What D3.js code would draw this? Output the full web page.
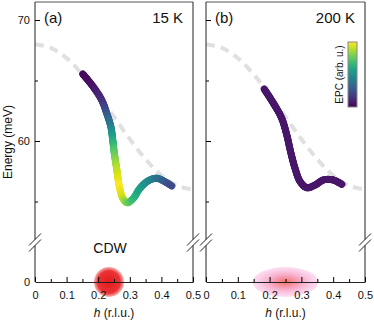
<!DOCTYPE html>
<html>
<head>
<meta charset="utf-8">
<script src="https://cdn.jsdelivr.net/npm/d3@7"></script>
<style>
body { margin: 0; background: #fff; }
svg { font-family: "Liberation Sans", Arial, sans-serif; }
</style>
</head>
<body>
<script>
var w = 374;
var h = 321;

// data
var panelLabels = ["(a)", "(b)"];
var temps = ["15 K", "200 K"];
var xMajor = [0, 0.1, 0.2, 0.3, 0.4, 0.5];
var xMinor = [0.05, 0.15, 0.25, 0.35, 0.45];
var yMajor = [60, 70];
var yMinor = [55, 65];

// grey dashed reference dispersion
var dashH = [0, 0.05, 0.1, 0.15, 0.2, 0.25, 0.3, 0.35, 0.4, 0.45, 0.5];
var dashE = [68, 67.7, 66.85, 65.5, 63.85, 62, 60.15, 58.5, 57.15, 56.3, 56];

// 15 K phonon branch with EPC
var aH = [0.151, 0.184, 0.211, 0.227, 0.240, 0.246, 0.251, 0.259, 0.267, 0.278, 0.292, 0.311, 0.332, 0.359, 0.385, 0.411, 0.433];
var aE = [65.54, 64.49, 63.39, 62.29, 61.18, 60.08, 58.98, 57.60, 56.22, 55.26, 54.90, 55.26, 56.09, 56.72, 56.92, 56.64, 56.28];
var aEPC = [0.02, 0.05, 0.12, 0.25, 0.42, 0.6, 0.75, 0.9, 1.0, 0.93, 0.8, 0.68, 0.58, 0.48, 0.4, 0.3, 0.22];

// 200 K branch
var bH = [0.183, 0.212, 0.238, 0.254, 0.266, 0.280, 0.296, 0.317, 0.343, 0.369, 0.400, 0.427];
var bE = [64.30, 63.12, 61.88, 60.50, 59.12, 57.74, 56.64, 56.14, 56.36, 56.78, 56.78, 56.42];
var bEPC = [0.06, 0.06, 0.06, 0.06, 0.06, 0.06, 0.06, 0.06, 0.06, 0.06, 0.06, 0.06];

// CDW peak positions
var cdwH = [0.234, 0.25];

var svg = d3.select("body").append("svg")
    .attr("width", w)
    .attr("height", h);

var defs = svg.append("defs");

var gA = defs.append("radialGradient").attr("id", "cdwA");
gA.append("stop").attr("offset", "0%").attr("stop-color", "#e31a1c").attr("stop-opacity", 1);
gA.append("stop").attr("offset", "75%").attr("stop-color", "#e8282a").attr("stop-opacity", 0.95);
gA.append("stop").attr("offset", "100%").attr("stop-color", "#f06060").attr("stop-opacity", 0.5);

var gB = defs.append("radialGradient").attr("id", "cdwB");
gB.append("stop").attr("offset", "0%").attr("stop-color", "#f26a55").attr("stop-opacity", 0.95);
gB.append("stop").attr("offset", "40%").attr("stop-color", "#f590b0").attr("stop-opacity", 0.85);
gB.append("stop").attr("offset", "100%").attr("stop-color", "#f7b8e6").attr("stop-opacity", 0.45);

var cb = defs.append("linearGradient").attr("id", "cbar")
    .attr("x1", 0).attr("y1", 1).attr("x2", 0).attr("y2", 0);
d3.range(0, 1.01, 0.1).forEach(function(t){
    cb.append("stop").attr("offset", (t*100)+"%").attr("stop-color", d3.interpolateViridis(t));
});

var yTop = 2;
var yBase = 282;
var yScale = d3.scaleLinear().domain([60, 70]).range([141, 20]);
var breaks = [239.5, 245.5];

var panels = [
    {x0: 35, x1: 193, hs: aH, es: aE, epc: aEPC, cdw: "cdwA", rx: 15, ry: 15},
    {x0: 206, x1: 365, hs: bH, es: bE, epc: bEPC, cdw: "cdwB", rx: 33, ry: 15}
];

var fmt = function(d){ return d === 0 ? "0" : d.toFixed(1); };

panels.forEach(function(p, pi){
    var g = svg.append("g");
    var x = d3.scaleLinear().domain([0, 0.5]).range([p.x0, p.x1]);

    // dashed reference
    var clipId = "clip" + pi;
    defs.append("clipPath").attr("id", clipId)
        .append("rect").attr("x", p.x0).attr("y", yTop).attr("width", p.x1 - p.x0).attr("height", 235);
    var dashLine = d3.line()
        .x(function(d, i){ return x(dashH[i]); })
        .y(function(d, i){ return yScale(dashE[i]); })
        .curve(d3.curveCatmullRom);
    g.append("path")
        .attr("d", dashLine(dashH))
        .attr("clip-path", "url(#" + clipId + ")")
        .attr("fill", "none")
        .attr("stroke", "#e0e0e0")
        .attr("stroke-width", 4)
        .attr("stroke-dasharray", "9,6");

    // CDW blob
    g.append("ellipse")
        .attr("cx", x(cdwH[pi])).attr("cy", yBase)
        .attr("rx", p.rx).attr("ry", p.ry)
        .attr("fill", "url(#" + p.cdw + ")");

    // coloured branch: sample a smooth path, colour by EPC
    var line = d3.line()
        .x(function(d, i){ return x(p.hs[i]); })
        .y(function(d, i){ return yScale(p.es[i]); })
        .curve(d3.curveCatmullRom);
    var tmp = g.append("path").attr("d", line(p.hs)).attr("fill", "none");
    var node = tmp.node();
    var L = node.getTotalLength();
    var cum = [0];
    for(var i = 1; i<p.hs.length; i++){
        var sub = g.append("path").attr("d", line(p.hs.slice(0, i+1)));
        cum.push(sub.node().getTotalLength());
        sub.remove();
    }
    cum[cum.length-1] = L;
    var epcAt = function(s){
        for(var k = 0; k<cum.length-1; k++){
            if(s <= cum[k+1]){
                var f = (s - cum[k]) / (cum[k+1] - cum[k] || 1);
                return p.epc[k] + f*(p.epc[k+1] - p.epc[k]);
            }
        }
        return p.epc[p.epc.length-1];
    };
    var step = 1.2;
    var segs = [];
    for(var s = 0; s < L; s += step){
        var a = node.getPointAtLength(s);
        var b = node.getPointAtLength(Math.min(s + step, L));
        segs.push({a: a, b: b, c: epcAt(s + step/2)});
    }
    tmp.remove();
    g.selectAll("line.seg")
        .data(segs)
        .enter()
        .append("line")
        .attr("class", "seg")
        .attr("x1", function(d){ return d.a.x; })
        .attr("y1", function(d){ return d.a.y; })
        .attr("x2", function(d){ return d.b.x; })
        .attr("y2", function(d){ return d.b.y; })
        .attr("stroke", function(d){ return d3.interpolateViridis(d.c); })
        .attr("stroke-width", 7)
        .attr("stroke-linecap", "round");

    // frame
    var stroke = "#222";
    g.append("line").attr("x1", p.x0).attr("x2", p.x1).attr("y1", yTop).attr("y2", yTop)
        .attr("stroke", "#555").attr("stroke-width", 1);
    [p.x0, p.x1].forEach(function(xx){
        g.append("line").attr("x1", xx).attr("x2", xx).attr("y1", yTop).attr("y2", breaks[0])
            .attr("stroke", stroke).attr("stroke-width", 1);
        g.append("line").attr("x1", xx).attr("x2", xx).attr("y1", breaks[1]).attr("y2", yBase)
            .attr("stroke", stroke).attr("stroke-width", 1);
        breaks.forEach(function(yb){
            g.append("line")
                .attr("x1", xx - 6).attr("y1", yb + 6)
                .attr("x2", xx + 6).attr("y2", yb - 6)
                .attr("stroke", stroke).attr("stroke-width", 1);
        });
    });

    // x axis
    var xAxis = d3.axisBottom(x).tickValues(xMajor).tickFormat(fmt)
        .tickSizeInner(-5).tickSizeOuter(0).tickPadding(9);
    var xa = g.append("g").attr("transform", "translate(0," + yBase + ")").call(xAxis);
    xa.select(".domain").attr("stroke", stroke);
    xa.selectAll("text").attr("font-size", 11).attr("fill", "#111").attr("font-family", "Liberation Sans, Arial");
    var xm = g.append("g").attr("transform", "translate(0," + yBase + ")")
        .call(d3.axisBottom(x).tickValues(xMinor).tickFormat("").tickSizeInner(-3).tickSizeOuter(0));
    xm.select(".domain").remove();

    // y axis (upper part)
    var ya = g.append("g").attr("transform", "translate(" + p.x0 + ",0)")
        .call(d3.axisLeft(yScale).tickValues(yMajor).tickFormat(pi === 0 ? d3.format("d") : "")
            .tickSizeInner(-5).tickSizeOuter(0).tickPadding(5));
    ya.select(".domain").remove();
    ya.selectAll("text").attr("font-size", 11).attr("fill", "#111").attr("font-family", "Liberation Sans, Arial");
    var ym = g.append("g").attr("transform", "translate(" + p.x0 + ",0)")
        .call(d3.axisLeft(yScale).tickValues(yMinor).tickFormat("").tickSizeInner(-3).tickSizeOuter(0));
    ym.select(".domain").remove();
    if(pi === 0){
        g.append("text").attr("x", p.x0 - 5).attr("y", yBase + 4)
            .attr("text-anchor", "end").attr("font-size", 11).attr("fill", "#111").text("0");
    }

    // labels
    g.append("text").attr("x", p.x0 + 9).attr("y", 23)
        .attr("font-size", 15).attr("fill", "#111").text(panelLabels[pi]);
    g.append("text").attr("x", p.x1 - 10).attr("y", 23)
        .attr("text-anchor", "end").attr("font-size", 15).attr("fill", "#111").text(temps[pi]);

    var xl = g.append("text").attr("x", (p.x0 + p.x1)/2).attr("y", 317)
        .attr("text-anchor", "middle").attr("font-size", 12).attr("fill", "#111");
    xl.append("tspan").attr("font-style", "italic").text("h");
    xl.append("tspan").text(" (r.l.u.)");
});

svg.append("text").attr("x", 110).attr("y", 253)
    .attr("text-anchor", "middle").attr("font-size", 14).attr("fill", "#111").text("CDW");

svg.append("text")
    .attr("transform", "translate(12,142) rotate(-90)")
    .attr("text-anchor", "middle").attr("font-size", 12).attr("fill", "#111")
    .text("Energy (meV)");

// colour bar
svg.append("rect").attr("x", 348).attr("y", 42).attr("width", 9).attr("height", 65)
    .attr("fill", "url(#cbar)").attr("stroke", "#888").attr("stroke-width", 1);
svg.append("text")
    .attr("transform", "translate(343,74.5) rotate(-90)")
    .attr("text-anchor", "middle").attr("font-size", 10).attr("fill", "#111")
    .text("EPC (arb. u.)");
</script>
</body>
</html>
